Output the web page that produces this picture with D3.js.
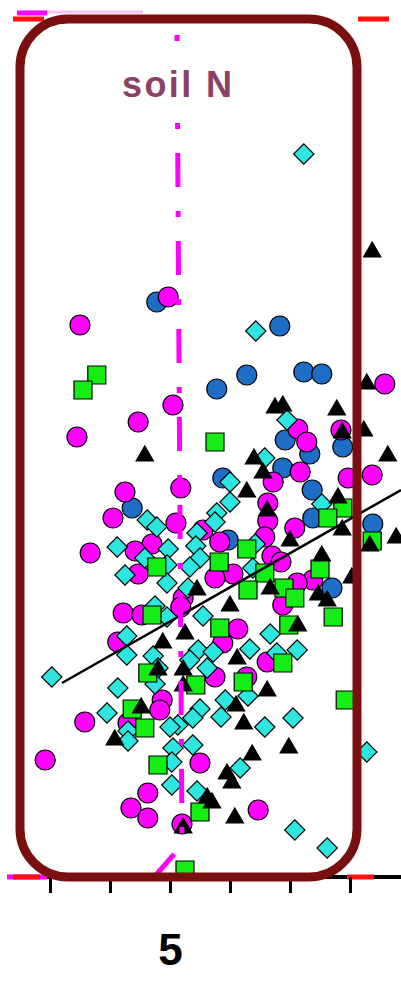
<!DOCTYPE html>
<html>
<head>
<meta charset="utf-8">
<script src="https://cdn.jsdelivr.net/npm/d3@7"></script>
<style>
  body { margin: 0; background: #fff; }
  svg { display: block; }
</style>
</head>
<body>
<svg id="drawing_region"></svg>
<script>
// values: [soil N, response]
const blueCircles = [
  [4.78,5.75],[6.83,5.51],[6.28,5.02],[7.23,5.05],[7.53,5.03],[5.78,4.88],[6.92,4.37],
  [7.88,4.30],[7.33,4.23],[6.88,4.09],[5.88,3.99],[7.37,3.87],[4.37,3.69],[7.38,3.59],
  [8.38,3.53],[7.70,2.89],[5.97,3.37]
];
const magentaCircles = [
  [4.97,5.80],[3.50,5.52],[8.58,4.93],[5.05,4.72],[4.47,4.55],[7.13,4.48],[3.45,4.40],
  [7.28,4.35],[7.85,4.47],[7.17,4.05],[6.72,3.95],[7.97,3.99],[8.37,4.02],[4.25,3.85],
  [5.18,3.89],[6.63,3.74],[4.05,3.59],[5.10,3.54],[6.63,3.56],[7.08,3.49],[5.55,3.47],
  [5.83,3.35],[4.70,3.33],[3.67,3.24],[4.42,3.26],[6.70,3.21],[6.85,3.15],[6.05,3.03],
  [5.75,2.99],[4.47,3.03],[7.38,2.97],[7.12,2.94],[5.22,2.79],[4.22,2.64],[4.53,2.62],
  [5.18,2.70],[6.13,2.48],[6.88,2.72],[5.88,2.34],[4.13,2.35],[6.62,2.15],[5.75,2.00],
  [6.28,2.00],[4.87,1.77],[4.83,1.67],[3.58,1.55],[4.30,1.54],[2.92,1.17],[5.50,1.14],
  [4.63,0.84],[4.35,0.69],[4.63,0.59],[6.47,0.67],[6.58,3.40],[5.20,0.53]
];
const cyanDiamonds = [
  [7.23,7.23],[6.43,5.46],[6.95,4.57],[6.58,4.19],[6.00,3.95],[6.00,3.75],[5.78,3.64],
  [7.53,3.73],[4.62,3.57],[4.78,3.50],[5.45,3.44],[5.75,3.55],[4.12,3.30],[4.58,3.19],
  [4.97,3.28],[5.43,3.31],[5.50,3.19],[6.42,3.33],[4.95,3.12],[5.33,3.10],[6.38,3.09],
  [4.25,3.02],[4.95,2.94],[5.30,2.89],[4.75,2.71],[4.95,2.60],[5.55,2.61],[6.67,2.43],
  [4.28,2.41],[4.28,2.22],[4.72,2.21],[5.47,2.27],[5.33,2.17],[6.33,2.28],[6.78,2.24],
  [7.12,2.27],[5.72,2.25],[3.03,2.00],[4.80,2.09],[5.62,2.09],[4.75,1.93],[4.13,1.89],
  [5.92,1.77],[6.30,1.81],[3.95,1.64],[5.50,1.68],[5.38,1.59],[5.85,1.60],[5.13,1.52],
  [5.00,1.50],[4.30,1.46],[4.30,1.36],[6.58,1.50],[7.05,1.59],[5.38,1.32],[5.05,1.29],
  [8.28,1.25],[5.03,1.15],[6.17,1.09],[5.03,0.92],[5.45,0.86],[7.08,0.47],[7.62,0.29]
];
const greenSquares = [
  [3.78,5.02],[3.55,4.87],[5.75,4.35],[7.88,3.69],[7.63,3.59],[8.37,3.36],[6.28,3.28],
  [5.82,3.15],[4.78,3.10],[7.50,3.08],[6.58,3.04],[6.30,2.87],[6.90,2.89],[7.08,2.79],
  [4.70,2.62],[7.72,2.60],[5.83,2.49],[6.98,2.52],[6.88,2.14],[4.63,2.04],[6.22,1.95],
  [5.43,1.92],[4.37,1.68],[4.58,1.49],[7.92,1.77],[4.80,1.12],[5.50,0.65],[5.25,0.07]
];
const blackTriangles = [
  [8.37,6.25],[8.28,4.93],[6.75,4.69],[6.88,4.71],[7.78,4.67],[7.87,4.44],[8.23,4.46],
  [4.58,4.21],[8.63,4.21],[6.40,4.18],[6.55,4.04],[6.28,3.85],[7.80,3.79],[6.62,3.66],
  [7.87,3.47],[8.77,3.39],[8.33,3.31],[7.00,3.36],[7.53,3.21],[8.03,2.99],[6.67,2.88],
  [7.47,2.82],[7.62,2.76],[5.45,2.87],[6.00,2.71],[7.13,2.51],[5.25,2.43],[4.88,2.34],
  [6.12,2.18],[5.22,2.07],[5.22,1.91],[6.62,1.86],[4.52,1.69],[6.23,1.53],[4.08,1.37],
  [6.98,1.29],[6.37,1.22],[5.95,1.03],[6.03,0.94],[5.62,0.79],[5.70,0.74],[6.08,0.59],
  [5.22,0.49],[6.10,1.71],[4.80,2.07]
];

const xTicks = [3, 4, 5, 6, 7, 8];
const xTickLabels = ["", "", "5", "", "", ""];
const fitLine = [[3.20, 1.94], [8.85, 3.87]];
const soilNLine = [[5.117, 8.42], [5.20, 0.32], [4.767, 0.02]];
const panelLabel = "soil N";

const width = 401, height = 995;

const svg = d3.select('#drawing_region')
    .attr('width', width)
    .attr('height', height);

const xscale = d3.scaleLinear().domain([3, 8]).range([50, 350]);
const yscale = d3.scaleLinear().domain([0, 8]).range([877, 77]);

// leftovers of the neighbouring reference lines
svg.append('line').attr('x1', 23).attr('x2', 143).attr('y1', 12).attr('y2', 12)
    .attr('stroke', '#f6c4ee').attr('stroke-width', 3);
svg.append('line').attr('x1', 17).attr('x2', 47).attr('y1', 13).attr('y2', 13)
    .attr('stroke', '#ff00ff').attr('stroke-width', 5);
svg.append('line').attr('x1', 13).attr('x2', 390).attr('y1', 19).attr('y2', 19)
    .attr('stroke', '#ff1010').attr('stroke-width', 5).attr('stroke-dasharray', '31,314');

// x axis
svg.append('line')
    .attr('x1', 7).attr('x2', width)
    .attr('y1', yscale(0)).attr('y2', yscale(0))
    .attr('stroke', '#000').attr('stroke-width', 4);
svg.append('line').attr('x1', 7).attr('x2', 47).attr('y1', yscale(0)).attr('y2', yscale(0))
    .attr('stroke', '#ff00ff').attr('stroke-width', 5);
svg.append('line').attr('x1', 13).attr('x2', 378).attr('y1', yscale(0)).attr('y2', yscale(0))
    .attr('stroke', '#ff1010').attr('stroke-width', 5).attr('stroke-dasharray', '27,307');

const xaxis = d3.axisBottom(xscale)
    .tickValues(xTicks)
    .tickFormat((d, i) => xTickLabels[i])
    .tickSize(16)
    .tickPadding(41);

const axis_group = svg.append('g')
    .attr('transform', `translate(0, ${yscale(0)})`)
    .call(xaxis);
axis_group.select('.domain').remove();
axis_group.selectAll('.tick line').attr('stroke', '#000').attr('stroke-width', 3);
axis_group.selectAll('.tick text')
    .attr('fill', '#000')
    .attr('font-family', 'Liberation Sans, Arial, sans-serif')
    .attr('font-size', 44)
    .attr('font-weight', 'bold');

// points
const series = [
  { data: blueCircles,    type: d3.symbolCircle,   size: 314, fill: '#1e6ec8', rotate: 0 },
  { data: magentaCircles, type: d3.symbolCircle,   size: 314, fill: '#ff00ff', rotate: 0 },
  { data: cyanDiamonds,   type: d3.symbolSquare,   size: 205, fill: '#2ee6e0', rotate: 45 },
  { data: greenSquares,   type: d3.symbolSquare,   size: 324, fill: '#14ee14', rotate: 0 },
  { data: blackTriangles, type: d3.symbolTriangle, size: 130, fill: '#000000', rotate: 0 }
];

series.forEach(s => {
    svg.append('g')
        .selectAll('path')
        .data(s.data)
        .join('path')
        .attr('d', d3.symbol().type(s.type).size(s.size))
        .attr('transform', d => `translate(${xscale(d[0])}, ${yscale(d[1])}) rotate(${s.rotate})`)
        .attr('fill', s.fill)
        .attr('stroke', '#000')
        .attr('stroke-width', 1.2);
});

const line = d3.line().x(d => xscale(d[0])).y(d => yscale(d[1]));

svg.append('path')
    .datum(fitLine)
    .attr('d', line)
    .attr('fill', 'none')
    .attr('stroke', '#000')
    .attr('stroke-width', 2.5);

svg.append('path')
    .datum(soilNLine)
    .attr('d', line)
    .attr('fill', 'none')
    .attr('stroke', '#ff00ff')
    .attr('stroke-width', 5)
    .attr('stroke-dasharray', '6,24,34,24');

// rounded frame
svg.append('rect')
    .attr('x', 20).attr('y', 19)
    .attr('width', 337).attr('height', 858)
    .attr('rx', 48).attr('ry', 48)
    .attr('fill', 'none')
    .attr('stroke', '#7a0f0f')
    .attr('stroke-width', 9);

// label
svg.append('rect')
    .attr('x', 118).attr('y', 60)
    .attr('width', 118).attr('height', 42)
    .attr('fill', '#fff');

svg.append('text')
    .attr('x', 177)
    .attr('y', 97)
    .attr('text-anchor', 'middle')
    .attr('font-family', 'Liberation Sans, Arial, sans-serif')
    .attr('font-size', 36)
    .attr('font-weight', 'bold')
    .attr('fill', '#8b4064')
    .attr('textLength', 110)
    .attr('lengthAdjust', 'spacing')
    .text(panelLabel);
</script>
</body>
</html>
